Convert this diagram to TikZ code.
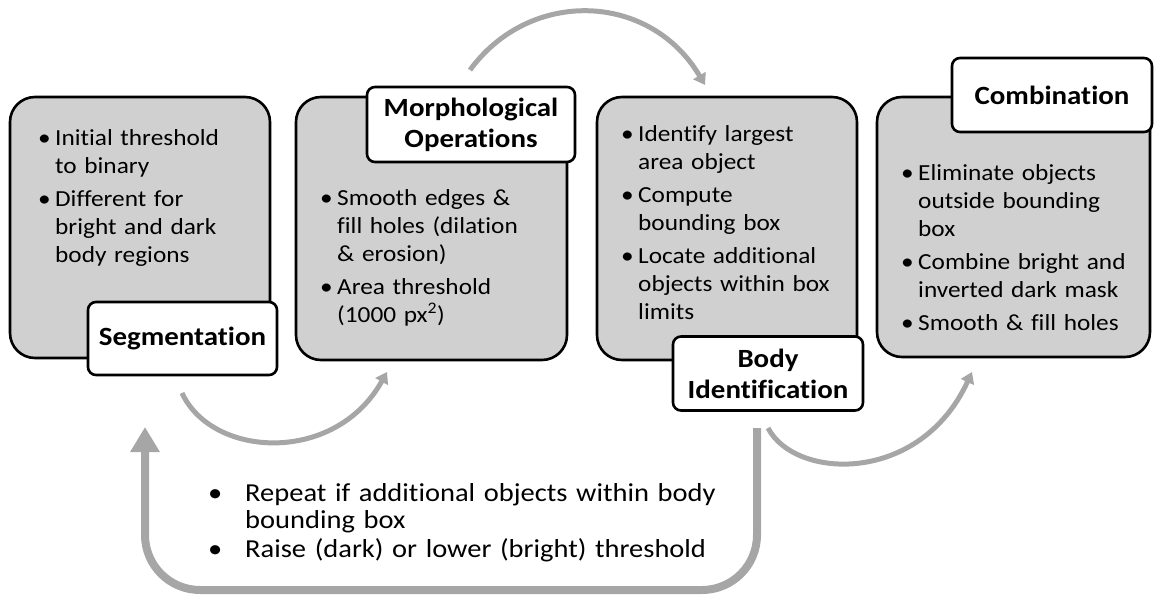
\documentclass[tikz,border=0pt]{standalone}
\usepackage{fontspec}
\setmainfont{Carlito}[FakeStretch=1.1, Ligatures=NoCommon]
\usetikzlibrary{arrows.meta}
\definecolor{boxGray}{RGB}{208,208,208}
\definecolor{arrowGray}{RGB}{166,166,166}
\tikzstyle{stageBox} = [draw=black, fill=boxGray, line width=2.6pt, rounded corners=25pt, inner sep=0pt]
\tikzstyle{stageLabel} = [draw=black, fill=white, line width=2.6pt, rounded corners=8pt, inner sep=0pt, align=center, font=\fontsize{26.3}{31}\selectfont\bfseries]
\tikzstyle{stageText} = [anchor=base west, inner sep=0pt, text width=280pt, align=left, font=\fontsize{23}{28}\selectfont]
\tikzstyle{loopText} = [anchor=base west, inner sep=0pt, text width=600pt, align=left, font=\fontsize{25.9}{26.5}\selectfont]
\tikzstyle{flowArrow} = [draw=arrowGray, line width=5pt, -{Triangle[width=14pt,length=11pt]}]
\tikzstyle{loopArrow} = [draw=arrowGray, line width=8pt, rounded corners=55pt, -{Triangle[width=28pt,length=25pt]}]
\newcommand{\bulletItem}[1]{\par\hangindent=17pt\hangafter=1\noindent\makebox[17pt][l]{\textbullet}#1\par}
\newcommand{\nextItem}[1]{\vspace{5pt}\bulletItem{#1}}
\newcommand{\loopItem}[1]{\par\hangindent=37pt\hangafter=1\noindent\makebox[37pt][l]{\textbullet}#1\par}
\newcommand{\stageBox}[5]{\node [stageBox, minimum width=#4pt, minimum height=#5pt] (#1) at (#2,#3) {};}
\newcommand{\stageLabel}[6]{\node [stageLabel, minimum width=#4pt, minimum height=#5pt] (#1) at (#2,#3) {#6};}
\begin{document}
\begin{tikzpicture}[x=1pt, y=-1pt]
  \useasboundingbox (0,0) rectangle (1154,596);

  % stages
  \stageBox{segBox}{140}{227.5}{260}{261}
  \stageBox{morphBox}{431.5}{228.5}{271}{263}
  \stageBox{bodyBox}{727}{228.5}{260}{263}
  \stageBox{combBox}{1013.5}{227}{273}{260}

  \stageLabel{segLabel}{182.5}{338.5}{189}{73}{Segmentation}
  \stageLabel{morphLabel}{471}{124.5}{208}{75}{Morphological\\Operations}
  \stageLabel{bodyLabel}{768}{373.5}{190}{74}{Body\\Identification}
  \stageLabel{combLabel}{1052}{95}{200}{74}{Combination}

  % bullet texts
  \node [stageText] (segText) at (38,118) {%
    \bulletItem{Initial threshold\newline to binary}
    \nextItem{Different for\newline bright and dark\newline body regions}};
  \node [stageText] (morphText) at (320,178) {%
    \bulletItem{Smooth edges \&\newline fill holes (dilation\newline \& erosion)}
    \nextItem{Area threshold\newline (1000 px\textsuperscript{2})}};
  \node [stageText] (bodyText) at (621,114) {%
    \bulletItem{Identify largest\newline area object}
    \nextItem{Compute\newline bounding box}
    \nextItem{Locate additional\newline objects within box\newline limits}};
  \node [stageText] (combText) at (901,153) {%
    \bulletItem{Eliminate objects\newline outside bounding\newline box}
    \nextItem{Combine bright and\newline inverted dark mask}
    \nextItem{Smooth \& fill holes}};
  \node [loopText] (loopText) at (208,475) {%
    \loopItem{Repeat if additional objects within body\newline bounding box}
    \vspace{3pt}\loopItem{Raise (dark) or lower (bright) threshold}};

  % arrows
  \coordinate (segOut) at (182,393);
  \coordinate (morphIn) at (387,372);
  \coordinate (morphOut) at (470,70);
  \coordinate (bodyIn) at (705,85);
  \coordinate (bodyOut) at (768,428);
  \coordinate (combIn) at (972,372);
  \coordinate (loopStart) at (757,428);
  \coordinate (loopEnd) at (145,427);

  \draw [flowArrow] (segOut) .. controls (212,458) and (335,465) .. (morphIn);
  \draw [flowArrow] (morphOut) .. controls (530,-12) and (650,-8) .. (bodyIn);
  \draw [flowArrow] (bodyOut) .. controls (795,480) and (920,485) .. (combIn);
  \draw [loopArrow] (loopStart) -- (757,590) -- (145,590) -- (loopEnd);
\end{tikzpicture}
\end{document}
